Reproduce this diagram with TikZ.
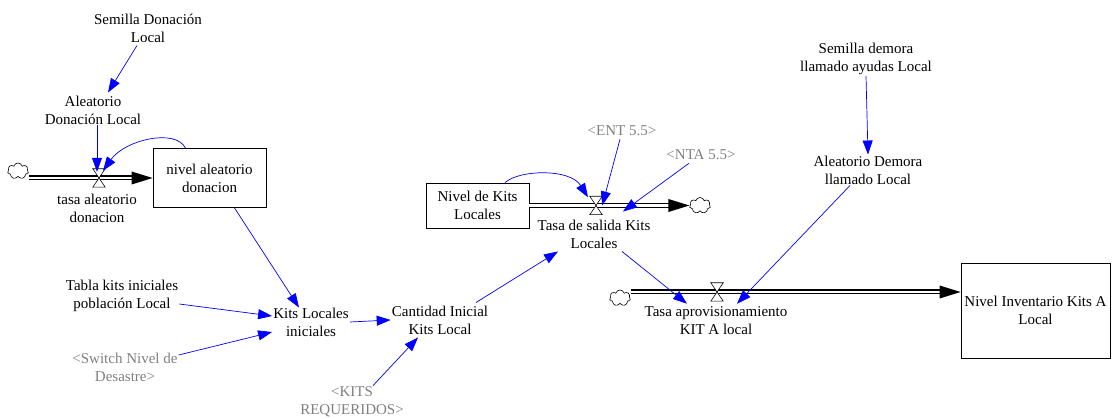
\documentclass[tikz,border=0pt]{standalone}
\usepackage{fontspec}
\setmainfont{Liberation Serif}
\usetikzlibrary{arrows.meta,shapes.symbols,calc}
\definecolor{linkblue}{RGB}{0,0,255}
\definecolor{shadowgray}{RGB}{128,128,128}

\begin{document}
\begin{tikzpicture}[x=1pt,y=-1pt,
  every node/.style={font=\fontsize{15}{18}\selectfont},
  var/.style={align=center, inner sep=1pt},
  shadow/.style={var, text=shadowgray},
  stock/.style={draw, line width=0.8pt, align=center, inner sep=2pt},
  link/.style={draw=linkblue, line width=0.7pt, -{Triangle[length=14pt,width=10pt]}},
  valvebox/.style={inner sep=0pt, minimum width=12pt, minimum height=18pt},
  source/.style={cloud, cloud puffs=7, draw, line width=0.6pt, inner sep=0pt,
    minimum width=21pt, minimum height=16pt},
  pipe/.style={line width=5pt},
  pipecore/.style={white, line width=2.6pt},
  valvedraw/.style={draw, fill=white, line width=0.6pt, line join=miter}
]
\useasboundingbox (0,0) rectangle (1113,419);

% ---- auxiliary variables ----
\node[var] (sdl) at (148,28) {Semilla Donación\\Local};
\node[var] (adl) at (93,110) {Aleatorio\\Donación Local};
\node[var] (tki) at (122,296) {Tabla kits iniciales\\población Local};
\node[shadow] (snd) at (125,367) {<Switch Nivel de\\Desastre>};
\node[var] (kli) at (311,322) {Kits Locales\\iniciales};
\node[var] (cik) at (440,320) {Cantidad Inicial\\Kits Local};
\node[shadow] (kr) at (352,402) {<KITS\\REQUERIDOS>};
\node[shadow] (ent) at (622,131) {<ENT 5.5>};
\node[shadow] (nta) at (701,155) {<NTA 5.5>};
\node[var] (sda) at (866,59) {Semilla demora\\llamado ayudas Local};
\node[var] (adm) at (868,170) {Aleatorio Demora\\llamado Local};

% ---- stocks ----
\node[stock, minimum width=113pt, minimum height=59pt] (s1) at (209.5,178) {nivel aleatorio\\donacion};
\node[stock, minimum width=103pt, minimum height=45pt] (s2) at (477.5,205.5) {Nivel de Kits\\Locales};
\node[stock, minimum width=149pt, minimum height=95pt] (s3) at (1035.5,310.5) {Nivel Inventario Kits A\\Local};

% ---- sources and sinks ----
\node[source] (c1) at (18,171) {};
\node[source] (c2) at (700,205.5) {};
\node[source] (c3) at (620,298) {};

% ---- valves and rate labels ----
\node[valvebox] (v1) at (99,178) {};
\node[valvebox] (v2) at (596,205.5) {};
\node[valvebox] (v3) at (717,292) {};
\node[var] (tad) at (97,208) {tasa aleatorio\\donacion};
\node[var] (tsk) at (594,234) {Tasa de salida Kits\\Locales};
\node[var] (tak) at (716,321) {Tasa aprovisionamiento\\KIT A local};

% ---- flow pipes ----
\draw[pipe] (c1.east |- s1.west) -- ([xshift=-18]s1.west);
\draw[pipecore] (c1.east |- s1.west) -- ([xshift=-18]s1.west);
\fill (s1.west) -- ++(-21,-6.5) -- ++(0,13) -- cycle;

\draw[pipe] (s2.east) -- ([xshift=-18]c2.west |- s2.east);
\draw[pipecore] (s2.east) -- ([xshift=-18]c2.west |- s2.east);
\fill (c2.west |- s2.east) -- ++(-21,-6.5) -- ++(0,13) -- cycle;

\draw[pipe] (c3.east |- v3) -- ([xshift=-18]s3.west |- v3);
\draw[pipecore] (c3.east |- v3) -- ([xshift=-18]s3.west |- v3);
\fill (s3.west |- v3) -- ++(-21,-6.5) -- ++(0,13) -- cycle;

% ---- valves ----
\foreach \v in {v1,v2,v3}
  \path[valvedraw] (\v.north west) -- (\v.north east) -- (\v.south west) -- (\v.south east) -- cycle;

% ---- information links ----
\draw[link] ([xshift=-11,yshift=-2]sdl.south) -- ([xshift=15,yshift=2]adl.north);
\draw[link] ([xshift=4]adl.south) -- ([xshift=-2,yshift=-3]v1.north);
\draw[link] ([xshift=-24]s1.north)
  .. controls ($(s1.north)+(-34,-20)$) and ($(v1.north)+(26,-29)$) .. ([xshift=4,yshift=-2]v1.north);
\draw[link] ([xshift=25]s1.south) -- ([xshift=-12,yshift=-1]kli.north);
\draw[link] ([yshift=-8]tki.east) -- ([yshift=6]kli.west);
\draw[link] ([yshift=12]snd.east) -- ([yshift=-10]kli.west);
\draw[link] (kli.east) -- (cik.west);
\draw[link] ([xshift=21]kr.north) -- ([xshift=-22,yshift=-2]cik.south);
\draw[link] ([xshift=36,yshift=2]cik.north) -- ([xshift=-36,yshift=-2]tsk.south);
\draw[link] ([xshift=27.5]s2.north)
  .. controls ($(s2.north)+(42,-13)$) and ($(v2.north)+(-26,-28)$) .. ([xshift=-8,yshift=-1]v2.north);
\draw[link] ([xshift=-2,yshift=-2]ent.south) -- (v2.east);
\draw[link] ([xshift=-12,yshift=-2]nta.south) -- ([xshift=29,yshift=7]tsk.north);
\draw[link] ([xshift=28,yshift=-2]tsk.south) -- ([xshift=-29,yshift=2]tak.north);
\draw[link] (sda.south) -- (adm.north);
\draw[link] ([xshift=-18]adm.south) -- ([xshift=21,yshift=2]tak.north);
\end{tikzpicture}
\end{document}
